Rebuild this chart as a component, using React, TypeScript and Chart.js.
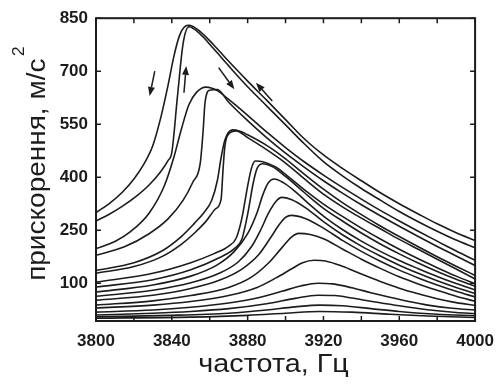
import { useEffect, useRef } from 'react';
import { Chart, registerables } from 'chart.js';
Chart.register(...registerables);

type Pt = [number, number];

// Resonance curves: [frequency Hz, acceleration m/s^2]
const curveA1: Pt[] = [[3800,300],[3807,325],[3814,358],[3820,395],[3825,435],[3830,490],[3834,565],[3838,660],[3841,740],[3844,800],[3847,827],[3849,830],[3855,812],[3862,775],[3870,728],[3880,672],[3890,618],[3900,563],[3910,508],[3920,463],[3930,425],[3940,390],[3950,356],[3960,325],[3970,296],[3980,268],[3990,243],[4000,221]];
const curveA2: Pt[] = [[3800,276],[3807,295],[3814,318],[3821,345],[3828,378],[3834,415],[3838,447],[3840,470],[3843,630],[3846,780],[3849,826],[3855,805],[3862,764],[3870,715],[3880,656],[3890,602],[3900,548],[3910,494],[3920,444],[3930,404],[3940,368],[3950,335],[3960,303],[3970,274],[3980,247],[3990,222],[4000,200]];
const curveB1: Pt[] = [[3800,198],[3810,218],[3818,245],[3828,298],[3836,375],[3841,455],[3845,535],[3849,605],[3853,640],[3858,655],[3864,645],[3870,620],[3880,575],[3890,528],[3900,484],[3910,443],[3920,406],[3930,371],[3940,338],[3950,306],[3960,276],[3970,247],[3980,219],[3990,191],[4000,165]];
const curveB2: Pt[] = [[3800,179],[3815,203],[3828,240],[3838,282],[3846,335],[3851,385],[3855,440],[3856.5,530],[3857.5,610],[3860,646],[3864,648],[3870,612],[3880,560],[3890,512],[3900,468],[3910,428],[3920,390],[3930,355],[3940,322],[3950,291],[3960,261],[3970,232],[3980,204],[3990,177],[4000,150]];
const curveC1: Pt[] = [[3800,136],[3820,158],[3835,192],[3845,232],[3852,270],[3857,300],[3861,334],[3864,390],[3866,455],[3868,505],[3872,534],[3876,530],[3880,520],[3890,490],[3900,452],[3910,408],[3920,366],[3930,328],[3940,294],[3950,262],[3960,232],[3970,203],[3980,175],[3990,148],[4000,122]];
const curveC2: Pt[] = [[3800,128],[3820,147],[3835,176],[3845,210],[3852,242],[3858,275],[3863,310],[3866,338],[3867,420],[3868,488],[3870,522],[3874,531],[3880,512],[3890,478],[3900,440],[3910,395],[3920,352],[3930,316],[3940,284],[3950,254],[3960,224],[3970,196],[3980,168],[3990,140],[4000,112]];
const curveD1: Pt[] = [[3800,103],[3830,128],[3850,158],[3862,183],[3870,205],[3874,228],[3877,285],[3880,375],[3882,425],[3884,446],[3888,444],[3895,428],[3900,408],[3910,364],[3920,324],[3930,289],[3940,256],[3950,225],[3960,196],[3970,169],[3980,144],[3990,120],[4000,98]];
const curveD2: Pt[] = [[3800,89],[3830,110],[3850,138],[3865,172],[3873,198],[3877,225],[3880,295],[3883,385],[3885,425],[3888,438],[3893,430],[3900,402],[3910,356],[3920,312],[3930,276],[3940,242],[3950,211],[3960,183],[3970,157],[3980,133],[3990,111],[4000,91]];
const curveE: Pt[] = [[3800,75],[3830,95],[3850,120],[3864,152],[3873,190],[3880,240],[3885,300],[3888,350],[3891,385],[3894,395],[3899,384],[3905,360],[3912,326],[3920,290],[3930,252],[3940,219],[3950,190],[3960,164],[3970,141],[3980,119],[3990,99],[4000,81]];
const curveF: Pt[] = [[3800,63],[3830,80],[3850,101],[3865,128],[3875,160],[3882,203],[3887,252],[3891,298],[3895,332],[3898,343],[3903,337],[3911,312],[3920,274],[3930,237],[3940,205],[3950,177],[3960,151],[3970,128],[3980,107],[3990,88],[4000,71]];
const curveG: Pt[] = [[3800,52],[3830,66],[3850,85],[3865,108],[3877,140],[3886,182],[3892,228],[3897,268],[3900,286],[3903,292],[3910,284],[3920,256],[3930,221],[3940,190],[3950,162],[3960,137],[3970,115],[3980,95],[3990,77],[4000,61]];
const curveH: Pt[] = [[3800,38],[3830,50],[3850,65],[3870,88],[3882,117],[3891,157],[3898,200],[3903,230],[3907,241],[3913,238],[3920,226],[3930,197],[3940,168],[3950,142],[3960,118],[3970,98],[3980,80],[3990,63],[4000,49]];
const curveI: Pt[] = [[3800,30],[3830,38],[3850,48],[3870,65],[3885,88],[3895,115],[3903,140],[3909,158],[3915,165],[3921,163],[3930,148],[3940,126],[3950,105],[3960,86],[3970,70],[3980,56],[3990,45],[4000,37]];
const curveJ: Pt[] = [[3800,18],[3830,24],[3850,32],[3870,44],[3885,58],[3898,77],[3908,92],[3917,100],[3925,98],[3935,87],[3945,73],[3955,60],[3965,48],[3975,38],[3988,29],[4000,24]];
const curveK: Pt[] = [[3800,10],[3830,15],[3850,20],[3870,28],[3890,42],[3905,57],[3917,66],[3926,65],[3935,58],[3945,49],[3960,36],[3975,25],[3990,17],[4000,14]];
const curveL: Pt[] = [[3800,5],[3840,9],[3870,15],[3890,24],[3905,33],[3918,38],[3930,36],[3945,28],[3960,20],[3980,12],[4000,8]];
const curveM: Pt[] = [[3800,1],[3850,4],[3880,9],[3900,15],[3918,20],[3935,18],[3955,12],[3975,7],[4000,3]];

const curves: Pt[][] = [curveA1, curveA2, curveB1, curveB2, curveC1, curveC2, curveD1, curveD2, curveE, curveF, curveG, curveH, curveI, curveJ, curveK, curveL, curveM];

const xLabelTicks = [3800, 3840, 3880, 3920, 3960, 4000];
const xMinorTicks = [3800, 3820, 3840, 3860, 3880, 3900, 3920, 3940, 3960, 3980, 4000];
const yTicks = [100, 250, 400, 550, 700, 850];
const xTitle = 'частота, Гц';
const yTitle = 'прискорення, м/с';
const yTitleSup = '2';

// sweep-direction arrows: tail -> head (data coordinates)
const arrowTails: Pt[] = [[3831, 700], [3846.4, 639], [3864.7, 710], [3893, 616]];
const arrowHeads: Pt[] = [[3828.3, 630], [3847.6, 715], [3873, 649], [3884.4, 667]];

const INK = '#1c1c1c';
const FONT = '"Liberation Sans", Arial, sans-serif';

export default function App() {
  const ref = useRef<HTMLCanvasElement>(null);
  useEffect(() => {
    document.body.style.margin = '0';
    const frame = {
      id: 'frame',
      afterDraw(chart: any) {
        const { ctx, chartArea: a, scales } = chart;
        const xs = scales.x, ys = scales.y;
        ctx.save();
        ctx.strokeStyle = INK;
        ctx.lineWidth = 2;
        ctx.strokeRect(a.left, a.top, a.right - a.left, a.bottom - a.top);
        ctx.lineWidth = 1.5;
        const tl = 5;
        ctx.beginPath();
        for (const v of xMinorTicks) {
          const px = xs.getPixelForValue(v);
          ctx.moveTo(px, a.bottom); ctx.lineTo(px, a.bottom - tl);
          ctx.moveTo(px, a.top); ctx.lineTo(px, a.top + tl);
        }
        for (const v of yTicks) {
          const py = ys.getPixelForValue(v);
          ctx.moveTo(a.left, py); ctx.lineTo(a.left + tl, py);
          ctx.moveTo(a.right, py); ctx.lineTo(a.right - tl, py);
        }
        ctx.stroke();

        // arrows
        ctx.fillStyle = INK;
        ctx.lineWidth = 1.5;
        for (let i = 0; i < arrowTails.length; i++) {
          const x0 = xs.getPixelForValue(arrowTails[i][0]);
          const y0 = ys.getPixelForValue(arrowTails[i][1]);
          const x1 = xs.getPixelForValue(arrowHeads[i][0]);
          const y1 = ys.getPixelForValue(arrowHeads[i][1]);
          const ang = Math.atan2(y1 - y0, x1 - x0);
          const hl = 9, hw = 3.5;
          const bx = x1 - hl * Math.cos(ang), by = y1 - hl * Math.sin(ang);
          ctx.beginPath();
          ctx.moveTo(x0, y0); ctx.lineTo(bx, by);
          ctx.stroke();
          ctx.beginPath();
          ctx.moveTo(x1, y1);
          ctx.lineTo(bx + hw * Math.sin(ang), by - hw * Math.cos(ang));
          ctx.lineTo(bx - hw * Math.sin(ang), by + hw * Math.cos(ang));
          ctx.closePath();
          ctx.fill();
        }

        // axis titles
        ctx.fillStyle = INK;
        ctx.textBaseline = 'alphabetic';
        ctx.textAlign = 'center';
        ctx.font = `25px ${FONT}`;
        ctx.save();
        ctx.translate((a.left + a.right) / 2 - 12, 372);
        ctx.scale(1.15, 1);
        ctx.fillText(xTitle, 0, 0);
        ctx.restore();

        ctx.translate(45, (a.top + a.bottom) / 2 - 6);
        ctx.rotate(-Math.PI / 2);
        ctx.scale(1.12, 1);
        ctx.font = `25px ${FONT}`;
        const w = ctx.measureText(yTitle).width;
        ctx.font = `16px ${FONT}`;
        const ws = ctx.measureText(yTitleSup).width;
        const start = -(w + ws + 2) / 2;
        ctx.textAlign = 'left';
        ctx.font = `25px ${FONT}`;
        ctx.fillText(yTitle, start, 0);
        ctx.font = `16px ${FONT}`;
        ctx.fillText(yTitleSup, start + w + 2, -21);
        ctx.restore();
      },
    };
    const chart = new Chart(ref.current as HTMLCanvasElement, {
      type: 'line',
      data: {
        datasets: curves.map((c) => ({
          data: c.map(([x, y]) => ({ x, y })),
          borderColor: INK,
          borderWidth: 1.6,
          pointRadius: 0,
          fill: false,
          cubicInterpolationMode: 'monotone' as const,
        })),
      },
      options: {
        animation: false,
        responsive: false,
        events: [],
        plugins: { legend: { display: false }, tooltip: { enabled: false } },
        layout: { padding: { top: 18, right: 27, left: 0, bottom: 0 } },
        scales: {
          x: {
            type: 'linear',
            min: 3800,
            max: 4000,
            afterBuildTicks: (s: any) => { s.ticks = xLabelTicks.map((v) => ({ value: v })); },
            afterFit: (s: any) => { s.height = 64; },
            grid: { display: false, drawTicks: false },
            border: { display: false },
            ticks: { font: { family: FONT, size: 17, weight: 'bold' }, color: INK, padding: 10, maxRotation: 0, autoSkip: false, callback: (v: any) => String(v) },
          },
          y: {
            type: 'linear',
            min: -7,
            max: 850,
            afterBuildTicks: (s: any) => { s.ticks = yTicks.map((v) => ({ value: v })); },
            afterFit: (s: any) => { s.width = 96; },
            grid: { display: false, drawTicks: false },
            border: { display: false },
            ticks: { font: { family: FONT, size: 17, weight: 'bold' }, color: INK, padding: 8, callback: (v: any) => String(v) },
          },
        },
      } as any,
      plugins: [frame],
    });
    return () => chart.destroy();
  }, []);
  return <canvas ref={ref} width={504} height={385} style={{ display: 'block' }} />;
}
